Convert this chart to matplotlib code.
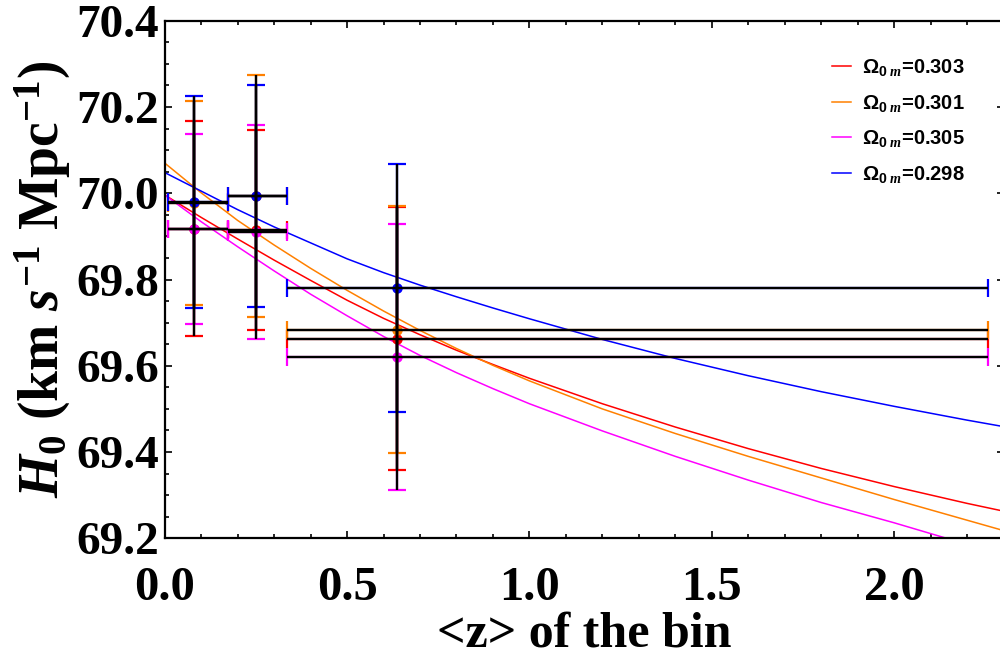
import numpy as np
import matplotlib
matplotlib.use("Agg")
import matplotlib.pyplot as plt
from matplotlib.ticker import MultipleLocator, FormatStrFormatter
from matplotlib.lines import Line2D

plt.rcParams['font.family'] = ['Liberation Serif', 'DejaVu Serif']
plt.rcParams['font.weight'] = 'bold'
plt.rcParams['mathtext.fontset'] = 'custom'
plt.rcParams['mathtext.rm'] = 'Liberation Serif:bold'
plt.rcParams['mathtext.it'] = 'Liberation Serif:italic:bold'
plt.rcParams['mathtext.bf'] = 'Liberation Serif:bold'
plt.rcParams['mathtext.sf'] = 'Liberation Sans:bold'

# binned H0 values (one point per bin and per Omega_0m)
z_bin = [0.08, 0.251, 0.636]
z_lo = [0.009, 0.174, 0.336]
z_hi = [0.174, 0.336, 2.258]

h_red = [69.918, 69.915, 69.663]
err_red = [0.249, 0.232, 0.305]
h_orange = [69.978, 69.993, 69.684]
err_orange = [0.237, 0.281, 0.286]
h_magenta = [69.918, 69.910, 69.621]
err_magenta = [0.220, 0.249, 0.308]
h_blue = [69.980, 69.993, 69.780]
err_blue = [0.245, 0.257, 0.288]

# model curves
z_curve = [0, 0.1, 0.2, 0.3, 0.4, 0.5, 0.6, 0.7, 0.8, 0.9, 1.0, 1.2, 1.4, 1.6, 1.8, 2.0, 2.2, 2.3]
c_red = [69.996, 69.944, 69.894, 69.845, 69.798, 69.752, 69.710, 69.672, 69.636, 69.603, 69.571,
         69.512, 69.458, 69.408, 69.362, 69.320, 69.281, 69.263]
c_orange = [70.070, 70.001, 69.937, 69.880, 69.826, 69.775, 69.727, 69.682, 69.640, 69.601, 69.565,
            69.500, 69.443, 69.390, 69.340, 69.290, 69.242, 69.218]
c_magenta = [69.996, 69.934, 69.876, 69.820, 69.766, 69.716, 69.668, 69.624, 69.584, 69.547, 69.512,
             69.449, 69.390, 69.335, 69.283, 69.236, 69.186, 69.161]
c_blue = [70.048, 70.005, 69.962, 69.922, 69.885, 69.848, 69.816, 69.787, 69.760, 69.734, 69.709,
          69.661, 69.617, 69.577, 69.540, 69.506, 69.474, 69.459]

labels = ['0.303', '0.301', '0.305', '0.298']
colors = ['#FF0000', '#FF8000', '#FF00FF', '#0000FF']

fig = plt.figure(figsize=(10, 6.64), dpi=100)
ax = fig.add_axes([0.1647, 0.1893, 0.8388, 0.7795])

curves = [c_red, c_orange, c_magenta, c_blue]
for c, col in zip(curves, colors):
    ax.plot(z_curve, c, color=col, lw=1.1, zorder=2)

zb = np.array(z_bin)
xerr = [zb - np.array(z_lo), np.array(z_hi) - zb]
series = [(h_red, err_red), (h_orange, err_orange), (h_magenta, err_magenta), (h_blue, err_blue)]
for (h, e), col in zip(series, colors):
    # coloured caps first, black bars on top
    ax.errorbar(z_bin, h, yerr=e, xerr=xerr, fmt='none', ecolor=col,
                elinewidth=1.6, capsize=6.5, capthick=1.6, zorder=3)
    ax.plot(z_bin, h, 'o', color=col, ms=7.5, mec='none', zorder=4)
    ax.errorbar(z_bin, h, yerr=e, xerr=xerr, fmt='none', ecolor='black',
                elinewidth=1.7, capsize=0, zorder=5)

ax.set_xlim(0, 2.3)
ax.set_ylim(69.2, 70.4)
ax.xaxis.set_major_locator(MultipleLocator(0.5))
ax.xaxis.set_minor_locator(MultipleLocator(0.1))
ax.yaxis.set_major_locator(MultipleLocator(0.2))
ax.yaxis.set_minor_locator(MultipleLocator(0.05))
ax.xaxis.set_major_formatter(FormatStrFormatter('%.1f'))
ax.yaxis.set_major_formatter(FormatStrFormatter('%.1f'))
ax.tick_params(which='both', direction='in', top=True, right=True, width=1.2)
ax.tick_params(which='major', length=5)
ax.tick_params(which='minor', length=3)
ax.tick_params(axis='y', labelsize=34, pad=4)
ax.tick_params(axis='x', labelsize=35, pad=20)
for s in ax.spines.values():
    s.set_linewidth(1.6)

ax.set_xlabel('<z> of the bin', fontsize=36, fontweight='bold', labelpad=1)
ax.set_ylabel(r'$H_\mathbf{0}$ (km $s^{\mathbf{-1}}$ Mpc$^{\mathbf{-1}}$)',
              fontsize=40, fontweight='bold', labelpad=2)

handles = [Line2D([], [], color=col, lw=1.1) for col in colors]
leg_labels = [r'$\mathsf{\Omega}_{\mathsf{0}\ \mathit{m}}$=' + l for l in labels]
ax.legend(handles, leg_labels, loc='upper left', bbox_to_anchor=(0.795, 0.929),
          frameon=False, prop={'family': 'Liberation Sans', 'weight': 'bold', 'size': 14.5},
          handlelength=0.95, handletextpad=0.55, labelspacing=0.72,
          borderpad=0, borderaxespad=0)

fig.savefig('out.png', dpi=100)
